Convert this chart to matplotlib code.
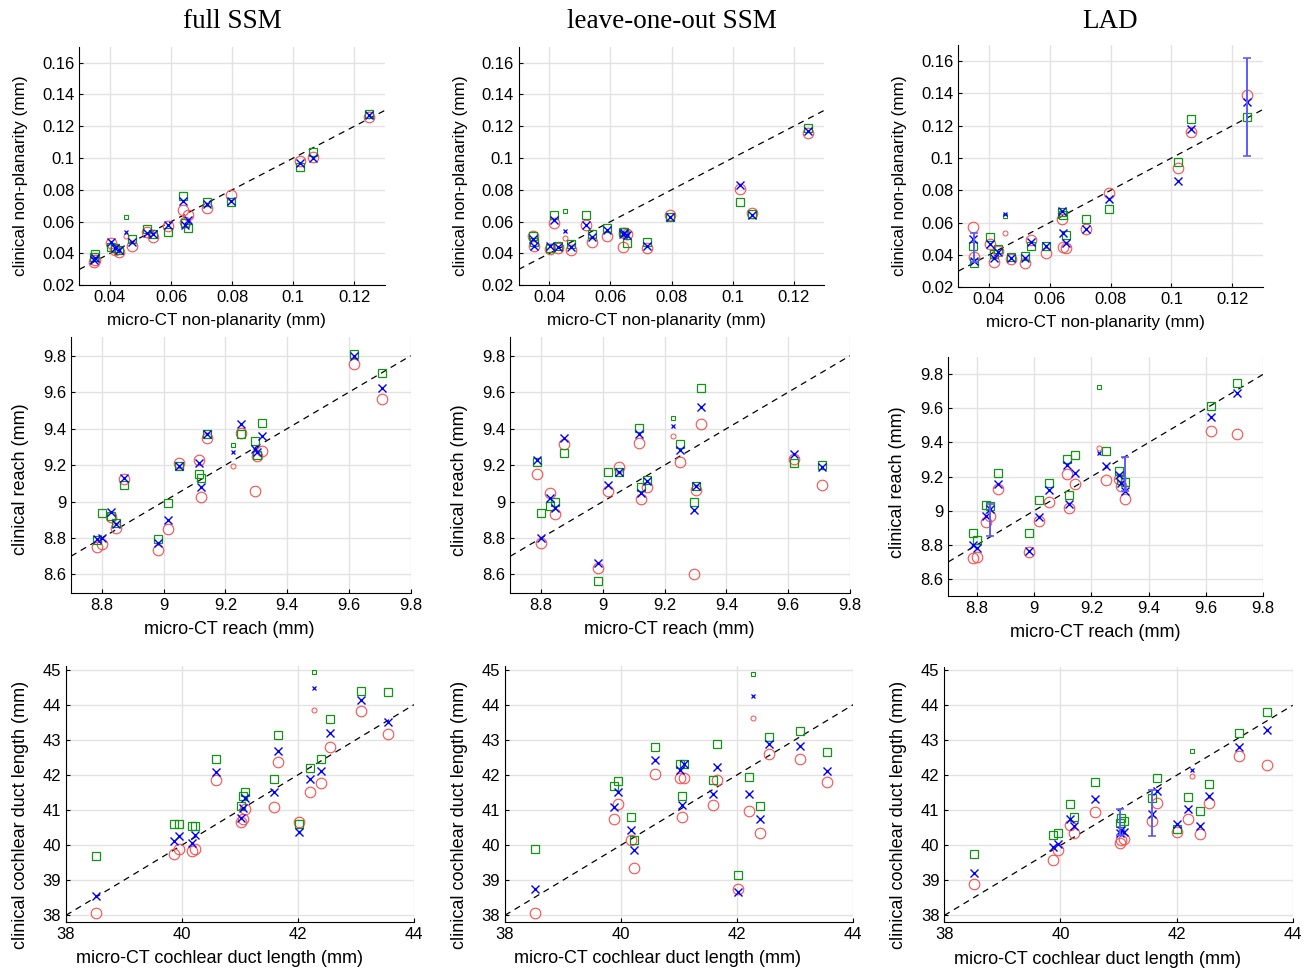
import numpy as np
import matplotlib
matplotlib.use("Agg")
import matplotlib.pyplot as plt
from matplotlib.ticker import FuncFormatter

plt.rcParams["font.family"] = ["Liberation Sans", "DejaVu Sans"]

W, H = 1314, 972

# ── micro-CT values (shared along each row) ───────────────────────────────────
x_np = [0.0347, 0.0350, 0.0404, 0.0417, 0.0430, 0.0472, 0.0520, 0.0540, 0.0589,
        0.0640, 0.0645, 0.0654, 0.0719, 0.0796, 0.1023, 0.1063, 0.1248]
x_np_small = 0.0453
x_reach = [8.785, 8.799, 8.830, 8.846, 8.873, 8.983, 9.015, 9.051, 9.116,
           9.122, 9.142, 9.249, 9.296, 9.302, 9.318, 9.618, 9.708]
x_reach_small = 9.226
x_cdl = [38.52, 39.87, 39.95, 40.17, 40.23, 40.59, 41.02, 41.05, 41.09,
         41.58, 41.66, 42.01, 42.20, 42.40, 42.55, 43.08, 43.55]
x_cdl_small = 42.27

# ── clinical values: red circles, blue crosses, green squares ─────────────────
# row 1: non-planarity
np_full_red = [0.0345, 0.0360, 0.0469, 0.0423, 0.0412, 0.0450, 0.0532, 0.0503, 0.0570,
               0.0671, 0.0595, 0.0639, 0.0686, 0.0765, 0.0980, 0.1007, 0.1259]
np_full_blue = [0.0362, 0.0370, 0.0470, 0.0433, 0.0422, 0.0471, 0.0528, 0.0524, 0.0578,
                0.0728, 0.0578, 0.0612, 0.0711, 0.0732, 0.0969, 0.1003, 0.1268]
np_full_green = [0.0375, 0.0395, 0.0440, 0.0433, 0.0419, 0.0494, 0.0553, 0.0524, 0.0538,
                 0.0759, 0.0590, 0.0560, 0.0721, 0.0721, 0.0944, 0.1037, 0.1274]
np_full_small = [0.0507, 0.0538, 0.0629]

np_loo_red = [0.0513, 0.0444, 0.0429, 0.0591, 0.0433, 0.0423, 0.0576, 0.0475, 0.0513,
              0.0440, 0.0530, 0.0524, 0.0433, 0.0644, 0.0805, 0.0654, 0.1159]
np_loo_blue = [0.0490, 0.0450, 0.0448, 0.0612, 0.0440, 0.0438, 0.0576, 0.0501, 0.0545,
               0.0522, 0.0530, 0.0517, 0.0444, 0.0629, 0.0828, 0.0644, 0.1169]
np_loo_green = [0.0507, 0.0475, 0.0433, 0.0644, 0.0450, 0.0459, 0.0644, 0.0522, 0.0560,
                0.0532, 0.0535, 0.0465, 0.0475, 0.0627, 0.0721, 0.0650, 0.1190]
np_loo_small = [0.0496, 0.0543, 0.0669]

np_lad_red = [0.0571, 0.0386, 0.0468, 0.0359, 0.0427, 0.0375, 0.0353, 0.0493, 0.0410,
              0.0623, 0.0452, 0.0441, 0.0561, 0.0785, 0.0940, 0.1163, 0.1390]
np_lad_blue = [0.0499, 0.0365, 0.0468, 0.0379, 0.0416, 0.0379, 0.0379, 0.0478, 0.0458,
               0.0674, 0.0534, 0.0472, 0.0561, 0.0748, 0.0860, 0.1180, 0.1348]
np_lad_green = [0.0456, 0.0353, 0.0509, 0.0406, 0.0435, 0.0386, 0.0394, 0.0458, 0.0458,
                0.0664, 0.0650, 0.0524, 0.0623, 0.0682, 0.0977, 0.1243, 0.1254]
np_lad_small = [0.0534, 0.0656, 0.0643]
np_lad_err = [(1, 0.0357, 0.0536), (16, 0.1014, 0.1620)]

# row 2: reach
reach_full_red = [8.752, 8.765, 8.917, 8.853, 9.122, 8.734, 8.849, 9.210, 9.228,
                  9.027, 9.347, 9.378, 9.060, 9.250, 9.279, 9.754, 9.560]
reach_full_blue = [8.793, 8.802, 8.944, 8.875, 9.131, 8.774, 8.899, 9.195, 9.210,
                   9.082, 9.369, 9.425, 9.286, 9.273, 9.359, 9.800, 9.624]
reach_full_green = [8.789, 8.935, 8.920, 8.884, 9.091, 8.793, 8.990, 9.195, 9.149,
                    9.127, 9.369, 9.369, 9.332, 9.255, 9.429, 9.809, 9.707]
reach_full_small = [9.195, 9.270, 9.310]

reach_loo_red = [9.149, 8.774, 9.049, 8.932, 9.314, 8.634, 9.058, 9.191, 9.323,
                 9.014, 9.078, 9.215, 8.603, 9.063, 9.423, 9.231, 9.091]
reach_loo_blue = [9.228, 8.802, 9.021, 8.963, 9.350, 8.661, 9.091, 9.164, 9.369,
                  9.045, 9.114, 9.283, 8.954, 9.087, 9.517, 9.261, 9.188]
reach_loo_green = [9.219, 8.935, 8.976, 8.996, 9.264, 8.564, 9.160, 9.164, 9.401,
                   9.082, 9.118, 9.316, 8.999, 9.087, 9.625, 9.213, 9.200]
reach_loo_small = [9.361, 9.416, 9.456]

reach_lad_red = [8.722, 8.728, 8.931, 8.970, 9.126, 8.757, 8.937, 9.050, 9.214,
                 9.015, 9.155, 9.181, 9.185, 9.142, 9.068, 9.470, 9.450]
reach_lad_blue = [8.800, 8.780, 8.970, 9.009, 9.155, 8.765, 8.966, 9.122, 9.269,
                  9.038, 9.220, 9.265, 9.210, 9.161, 9.118, 9.548, 9.689]
reach_lad_green = [8.868, 8.829, 9.034, 9.025, 9.220, 8.872, 9.064, 9.165, 9.304,
                   9.093, 9.327, 9.353, 9.230, 9.181, 9.167, 9.611, 9.747]
reach_lad_small = [9.366, 9.341, 9.728]
reach_lad_err = [(3, 8.849, 9.038), (14, 9.113, 9.314)]

# row 3: cochlear duct length
cdl_full_red = [38.07, 39.75, 39.90, 39.84, 39.90, 41.84, 40.67, 40.74, 41.02,
                41.08, 42.36, 40.65, 41.50, 41.78, 42.78, 43.82, 43.16]
cdl_full_blue = [38.56, 40.12, 40.27, 40.06, 40.29, 42.09, 40.77, 41.05, 41.35,
                 41.52, 42.69, 40.37, 41.88, 42.11, 43.18, 44.13, 43.51]
cdl_full_green = [39.70, 40.61, 40.61, 40.53, 40.53, 42.45, 41.10, 41.41, 41.52,
                  41.88, 43.13, 40.60, 42.19, 42.45, 43.58, 44.39, 44.37]
cdl_full_small = [43.84, 44.48, 44.93]

cdl_loo_red = [38.07, 40.74, 41.17, 40.13, 39.35, 42.03, 41.92, 40.81, 41.90,
               41.13, 41.86, 38.76, 40.98, 40.34, 42.59, 42.44, 41.81]
cdl_loo_blue = [38.76, 41.07, 41.51, 40.42, 39.85, 42.42, 42.14, 41.13, 42.30,
                41.46, 42.23, 38.66, 41.45, 40.75, 42.87, 42.82, 42.12]
cdl_loo_green = [39.89, 41.67, 41.83, 40.80, 40.13, 42.78, 42.30, 41.40, 42.32,
                 41.84, 42.88, 39.14, 41.95, 41.12, 43.07, 43.25, 42.66]
cdl_loo_small = [43.61, 44.25, 44.87]

cdl_lad_red = [38.89, 39.59, 39.87, 40.57, 40.35, 40.94, 40.06, 40.14, 40.18,
               40.71, 41.20, 40.39, 40.75, 40.32, 41.20, 42.56, 42.29]
cdl_lad_blue = [39.21, 39.94, 40.04, 40.75, 40.56, 41.32, 40.35, 40.44, 40.39,
                40.89, 41.55, 40.61, 41.04, 40.56, 41.42, 42.80, 43.29]
cdl_lad_green = [39.75, 40.30, 40.35, 41.18, 40.80, 41.82, 40.63, 40.79, 40.71,
                 41.34, 41.91, 40.47, 41.39, 40.98, 41.74, 43.20, 43.81]
cdl_lad_small = [41.98, 42.15, 42.69]
cdl_lad_err = [(6, 40.30, 41.03), (9, 40.28, 41.58)]

col_titles = ["full SSM", "leave-one-out SSM", "LAD"]

RED = "#ff4d4d"
BLUE = "#0000ff"
GREEN = "#149414"
ERR = "#5c5cff"

# axes boxes in pixels: left, right, top, bottom
boxes = [
    [(79.3, 385.0, 46.7, 285.3), (518.7, 824.3, 46.7, 285.3), (958.3, 1262.7, 45.0, 287.3)],
    [(71.0, 410.7, 337.5, 592.7), (510.3, 850.0, 337.5, 592.7), (948.3, 1263.3, 357.2, 596.0)],
    [(66.0, 414.0, 666.0, 922.3), (505.0, 853.3, 666.0, 922.3), (944.3, 1292.7, 666.8, 922.4)],
]
# where the axis labels sit along their axis (axes fraction)
xlabel_at = [[0.450, 0.451, 0.449], [0.467, 0.467, 0.467], [0.442, 0.439, 0.441]]
ylabel_at = [[0.458, 0.459, 0.460], [0.446, 0.442, 0.475], [0.419, 0.419, 0.419]]

rows = [
    dict(x=x_np, xs=x_np_small, xlim=(0.03, 0.13), ylim=(0.02, 0.17),
         xt=np.arange(0.04, 0.121, 0.02), yt=np.arange(0.02, 0.161, 0.02),
         xl="micro-CT non-planarity (mm)", yl="clinical non-planarity (mm)", fs=12.3,
         panels=[(np_full_red, np_full_blue, np_full_green, np_full_small, []),
                 (np_loo_red, np_loo_blue, np_loo_green, np_loo_small, []),
                 (np_lad_red, np_lad_blue, np_lad_green, np_lad_small, np_lad_err)]),
    dict(x=x_reach, xs=x_reach_small, xlim=(8.7, 9.8), ylim=(8.5, 9.9),
         xt=np.arange(8.8, 9.81, 0.2), yt=np.arange(8.6, 9.81, 0.2),
         xl="micro-CT reach (mm)", yl="clinical reach (mm)", fs=13,
         panels=[(reach_full_red, reach_full_blue, reach_full_green, reach_full_small, []),
                 (reach_loo_red, reach_loo_blue, reach_loo_green, reach_loo_small, []),
                 (reach_lad_red, reach_lad_blue, reach_lad_green, reach_lad_small, reach_lad_err)]),
    dict(x=x_cdl, xs=x_cdl_small, xlim=(38, 44), ylim=(37.8, 45.1),
         xt=np.arange(38, 44.1, 2), yt=np.arange(38, 45.1, 1),
         xl="micro-CT cochlear duct length (mm)", yl="clinical cochlear duct length (mm)", fs=13,
         panels=[(cdl_full_red, cdl_full_blue, cdl_full_green, cdl_full_small, []),
                 (cdl_loo_red, cdl_loo_blue, cdl_loo_green, cdl_loo_small, []),
                 (cdl_lad_red, cdl_lad_blue, cdl_lad_green, cdl_lad_small, cdl_lad_err)]),
]

fmt = FuncFormatter(lambda v, p: f"{round(v, 4):g}")

fig = plt.figure(figsize=(W / 100, H / 100), dpi=100)

for r, row in enumerate(rows):
    for c, (red, blue, green, small, errs) in enumerate(row["panels"]):
        l, rt, t, b = boxes[r][c]
        ax = fig.add_axes([l / W, 1 - b / H, (rt - l) / W, (b - t) / H])
        x = row["x"]
        lo, hi = row["xlim"]
        ax.plot([lo, hi], [lo, hi], "--", color="black", lw=0.9, dashes=(5, 4), zorder=2)
        ax.plot(x, red, "o", ls="none", mfc="none", mec=RED, ms=7.6, mew=0.8, zorder=3)
        ax.plot(x, green, "s", ls="none", mfc="none", mec=GREEN, ms=5.7, mew=0.9, zorder=4)
        ax.plot(x, blue, "x", ls="none", color=BLUE, ms=5.6, mew=1.0, zorder=5)
        xs = row["xs"]
        ax.plot([xs], [small[0]], "o", mfc="none", mec=RED, ms=3.6, mew=0.7, zorder=3)
        ax.plot([xs], [small[2]], "s", mfc="none", mec=GREEN, ms=3.2, mew=0.8, zorder=4)
        ax.plot([xs], [small[1]], "x", color=BLUE, ms=2.8, mew=0.9, zorder=5)
        for i, e_lo, e_hi in errs:
            yc = blue[i]
            ax.errorbar([x[i]], [yc], yerr=[[yc - e_lo], [e_hi - yc]], fmt="none",
                        ecolor=ERR, elinewidth=1.4, capsize=3, capthick=1.2, zorder=6)

        ax.set_xlim(row["xlim"])
        ax.set_ylim(row["ylim"])
        ax.set_xticks(row["xt"])
        ax.set_yticks(row["yt"])
        ax.xaxis.set_major_formatter(fmt)
        ax.yaxis.set_major_formatter(fmt)
        ax.grid(True, color="#e2e2e2", lw=1.0)
        ax.set_axisbelow(True)
        ax.spines["top"].set_visible(False)
        ax.spines["right"].set_visible(False)
        ax.tick_params(direction="in", length=3, labelsize=12, width=0.8)
        ax.set_xlabel(row["xl"], fontsize=row["fs"], labelpad=6)
        ax.set_ylabel(row["yl"], fontsize=row["fs"], labelpad=10)
        ax.xaxis.label.set_x(xlabel_at[r][c])
        ax.yaxis.label.set_y(ylabel_at[r][c])

for c, title in enumerate(col_titles):
    l, rt, t, b = boxes[0][c]
    fig.text((l + rt) / 2 / W, 1 - 22 / H, title, ha="center", va="center",
             fontsize=19.5, family="Liberation Serif")

fig.savefig("out.png", dpi=100)
